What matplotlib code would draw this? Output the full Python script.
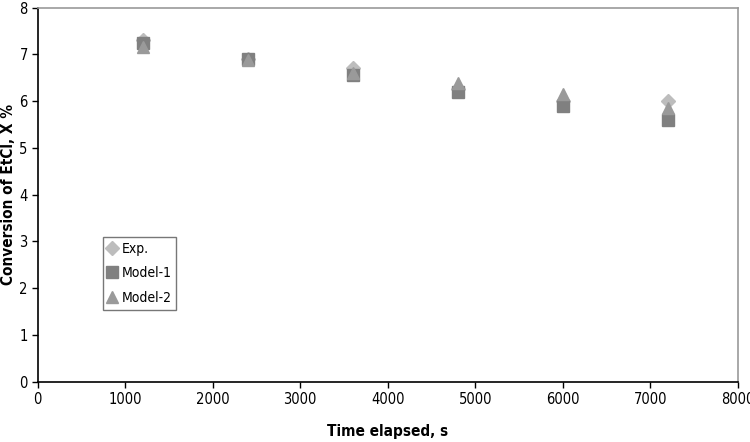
import matplotlib.pyplot as plt

# data
time_s = [1200, 2400, 3600, 4800, 6000, 7200]
exp_conv = [7.30, 6.90, 6.70, 6.25, 6.00, 6.00]
model1_conv = [7.25, 6.90, 6.55, 6.20, 5.90, 5.60]
model2_conv = [7.15, 6.88, 6.60, 6.38, 6.15, 5.85]

plt.rcParams['font.family'] = ['DejaVu Sans']
plt.rcParams['font.stretch'] = 'condensed'

fig = plt.figure(figsize=(7.5, 4.42), dpi=100)
ax = fig.add_axes([0.05, 0.136, 0.934, 0.847])

ax.plot(time_s, exp_conv, linestyle='none', marker='D', markersize=7.5,
        color='#bdbdbd', label='Exp.')
ax.plot(time_s, model1_conv, linestyle='none', marker='s', markersize=8.5,
        color='#808080', label='Model-1')
ax.plot(time_s, model2_conv, linestyle='none', marker='^', markersize=9,
        color='#9a9a9a', label='Model-2')

ax.set_xlim(0, 8000)
ax.set_ylim(0, 8)
ax.set_xticks(range(0, 8001, 1000))
ax.set_yticks(range(0, 9))
ax.tick_params(direction='out', length=4, width=1, labelsize=10.5, pad=3)

ax.spines['left'].set_color('black')
ax.spines['bottom'].set_color('black')
ax.spines['top'].set_color('#999999')
ax.spines['right'].set_color('#999999')
for s in ax.spines.values():
    s.set_linewidth(1.2)

ax.set_xlabel('Time elapsed, s', fontsize=11, fontweight='bold')
ax.set_ylabel('Conversion of EtCl, X %', fontsize=11, fontweight='bold')
ax.xaxis.set_label_coords(0.5, -0.112)
ax.yaxis.set_label_coords(-0.031, 0.5)

leg = ax.legend(loc='upper left', bbox_to_anchor=(0.093, 0.387), fontsize=10,
                frameon=True, fancybox=False, handlelength=0.7, handletextpad=0.3,
                borderpad=0.35, labelspacing=0.75, borderaxespad=0)
leg.get_frame().set_edgecolor('#555555')
leg.get_frame().set_linewidth(1.0)

fig.savefig('out.png', dpi=100)
